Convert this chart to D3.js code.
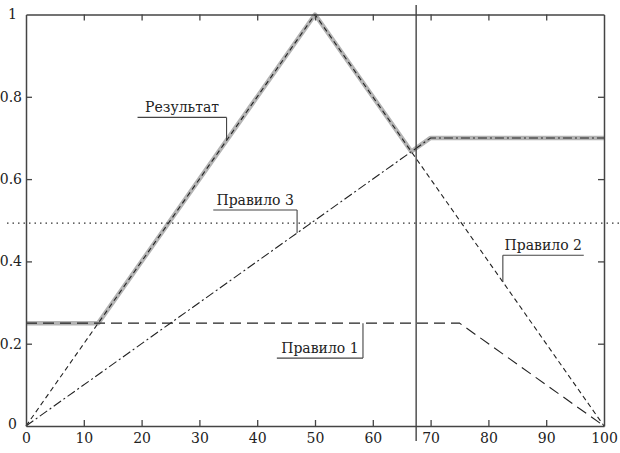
<!DOCTYPE html>
<html><head><meta charset="utf-8">
<script src="https://cdn.jsdelivr.net/npm/d3@7"></script>
<style>body{margin:0;background:#fff}svg{display:block}</style>
</head><body>
<svg id="c" width="620" height="453"></svg>
<script>
// data
const xTicks = [0,10,20,30,40,50,60,70,80,90,100];
const yTicks = [0,0.2,0.4,0.6,0.8,1];
const rule1 = [[0,0.25],[75,0.25],[100,0]];
const rule2 = [[0,0],[50,1],[100,0]];
const rule3 = [[0,0],[70,0.7],[100,0.7]];
const result = [[0,0.25],[12.5,0.25],[50,1],[66.67,0.667],[70,0.7],[100,0.7]];
const centroidX = 67.5;
const thresholdY = 0.493;
const labels = [
  {text:"Результат", lx:[19.3,34.7], ly:0.75, px:34.7, series:"result"},
  {text:"Правило 3", lx:[32.4,46.9], ly:0.525, px:46.9, series:"rule3"},
  {text:"Правило 2", lx:[82.5,96.5], ly:0.415, px:82.5, series:"rule2"},
  {text:"Правило 1", lx:[43.4,58.3], ly:0.165, px:58.3, series:"rule1"}
];

const svg = d3.select("#c");
const L=26, R=604, T=14.5, B=426;
const x = d3.scaleLinear().domain([0,100]).range([L,R]);
const y = d3.scaleLinear().domain([0,1]).range([B,T]);
const line = d3.line().x(d=>x(d[0])).y(d=>y(d[1]));
const font = "DejaVu Serif";
const axisCol = "#444";

svg.append("path").attr("d",line(result)).attr("fill","none")
  .attr("stroke","#b4b4b4").attr("stroke-width",4.5).attr("stroke-linejoin","round");

svg.append("line").attr("x1",7).attr("x2",620).attr("y1",y(thresholdY)).attr("y2",y(thresholdY))
  .attr("stroke","#333").attr("stroke-width",1.1).attr("stroke-dasharray","1.5,4");

svg.append("path").attr("d",line(rule1)).attr("fill","none").attr("stroke","#222")
  .attr("stroke-width",1.1).attr("stroke-dasharray","11,6");
svg.append("path").attr("d",line(rule2)).attr("fill","none").attr("stroke","#222")
  .attr("stroke-width",1.1).attr("stroke-dasharray","5,3.5");
svg.append("path").attr("d",line(rule3)).attr("fill","none").attr("stroke","#222")
  .attr("stroke-width",1.1).attr("stroke-dasharray","9,3,2,3");

const tickLen = 6;
const gB = svg.append("g").attr("transform",`translate(0,${B})`)
  .call(d3.axisBottom(x).tickValues(xTicks).tickSizeInner(-tickLen).tickSizeOuter(0).tickPadding(7).tickFormat(d3.format("d")));
const gT = svg.append("g").attr("transform",`translate(0,${T})`)
  .call(d3.axisTop(x).tickValues(xTicks).tickSizeInner(-tickLen).tickSizeOuter(0).tickFormat(""));
const gL = svg.append("g").attr("transform",`translate(${L},0)`)
  .call(d3.axisLeft(y).tickValues(yTicks).tickSizeInner(-tickLen).tickSizeOuter(0).tickPadding(4).tickFormat(d=>d===0||d===1?String(d):d3.format(".1f")(d)));
const gR = svg.append("g").attr("transform",`translate(${R},0)`)
  .call(d3.axisRight(y).tickValues(yTicks).tickSizeInner(-tickLen).tickSizeOuter(0).tickFormat(""));
[gB,gT,gL,gR].forEach(g=>{
  g.select(".domain").attr("stroke",axisCol).attr("stroke-width",1.5);
  g.selectAll(".tick line").attr("stroke",axisCol).attr("stroke-width",1.3);
  g.selectAll("text").attr("font-family",font).attr("font-size",14).attr("fill","#222");
});
gB.selectAll(".tick").filter(d=>d===0||d===100).select("line").remove();
gT.selectAll(".tick").filter(d=>d===0||d===100).remove();
gL.selectAll(".tick").filter(d=>d===0||d===1).select("line").remove();
gR.selectAll(".tick").filter(d=>d===0||d===1).remove();
gL.selectAll(".tick").filter(d=>d===0).select("text").attr("x",-9).attr("dy","0.2em");
gL.selectAll(".tick").filter(d=>d===1).select("text").attr("x",-9);

svg.append("line").attr("x1",x(centroidX)).attr("x2",x(centroidX)).attr("y1",5).attr("y2",441)
  .attr("stroke",axisCol).attr("stroke-width",1.4);

const seriesMap = {result, rule1, rule2, rule3};
function valAt(pts, xv){
  for(let i=1;i<pts.length;i++){
    if(xv<=pts[i][0]){const a=pts[i-1],b=pts[i];return a[1]+(b[1]-a[1])*(xv-a[0])/(b[0]-a[0]);}
  }
  return pts[pts.length-1][1];
}
labels.forEach(l=>{
  const yl = y(l.ly);
  const yp = y(valAt(seriesMap[l.series], l.px));
  svg.append("path").attr("d",`M${x(l.lx[0])},${yl}H${x(l.lx[1])}`).attr("stroke",axisCol).attr("stroke-width",1.1).attr("fill","none");
  svg.append("line").attr("x1",x(l.px)).attr("x2",x(l.px)).attr("y1",yl).attr("y2",yp).attr("stroke",axisCol).attr("stroke-width",1.1);
  svg.append("text").attr("x",(x(l.lx[0])+x(l.lx[1]))/2).attr("y",yl-5).attr("text-anchor","middle")
    .attr("font-family",font).attr("font-size",14).attr("fill","#222").text(l.text);
});
</script>
</body></html>
